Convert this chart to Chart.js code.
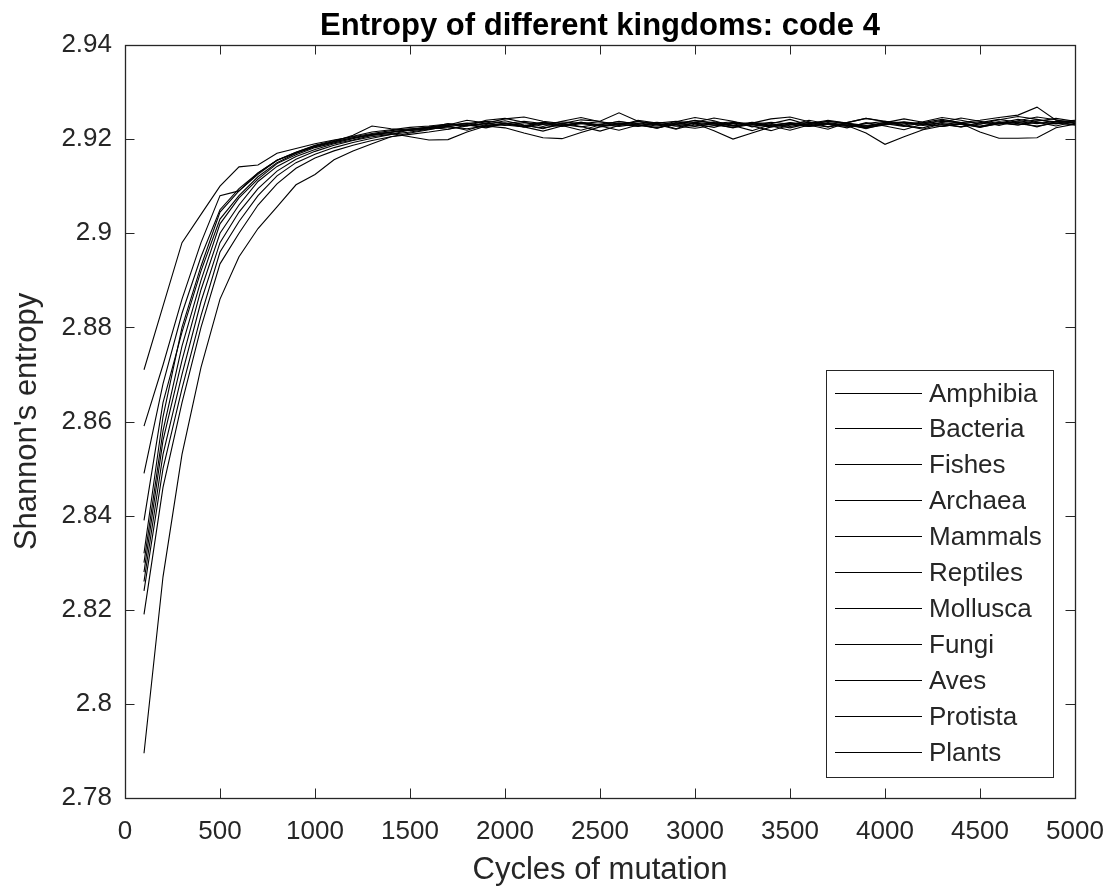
<!DOCTYPE html>
<html>
<head>
<meta charset="utf-8">
<script src="https://cdn.jsdelivr.net/npm/chart.js@4.4.1/dist/chart.umd.min.js"></script>
<style>
  html, body { margin: 0; padding: 0; background: #ffffff; }
  #wrap { width: 1118px; height: 892px; }
</style>
</head>
<body>
<div id="wrap"><canvas id="c" width="1118" height="892"></canvas></div>
<script>
// ---- data ----
const chartTitle = "Entropy of different kingdoms: code 4";
const xAxisTitle = "Cycles of mutation";
const yAxisTitle = "Shannon's entropy";
const cycles = [100,200,300,400,500,600,700,800,900,1000,1100,1200,1300,1400,1500,1600,1700,1800,1900,2000,2100,2200,2300,2400,2500,2600,2700,2800,2900,3000,3100,3200,3300,3400,3500,3600,3700,3800,3900,4000,4100,4200,4300,4400,4500,4600,4700,4800,4900,5000];
const seriesNames = ["Amphibia","Bacteria","Fishes","Archaea","Mammals","Reptiles","Mollusca","Fungi","Aves","Protista","Plants"];
const xTicks = [0,500,1000,1500,2000,2500,3000,3500,4000,4500,5000];
const yTicks = [2.78,2.80,2.82,2.84,2.86,2.88,2.90,2.92,2.94];

const amphibia = [2.871,2.8845,2.898,2.904,2.910,2.9141,2.9145,2.917,2.918,2.919,2.9198,2.9205,2.9212,2.9218,2.9222,2.9224,2.9233,2.9228,2.9240,2.9244,2.9236,2.9227,2.9238,2.9246,2.9237,2.9229,2.9240,2.9234,2.9222,2.9236,2.9245,2.9238,2.9226,2.9233,2.9242,2.9230,2.9221,2.9235,2.9244,2.9237,2.9228,2.9224,2.9236,2.9245,2.9238,2.9229,2.9239,2.9247,2.9241,2.9233];
const bacteria = [2.859,2.872,2.886,2.898,2.908,2.909,2.9128,2.9155,2.917,2.9185,2.9195,2.9208,2.9228,2.9222,2.9218,2.9222,2.9230,2.9240,2.9234,2.9243,2.9247,2.9238,2.9233,2.9241,2.9238,2.9256,2.9238,2.9230,2.9237,2.9246,2.9239,2.9228,2.9234,2.9243,2.9247,2.9237,2.9226,2.9235,2.9244,2.9238,2.9230,2.9237,2.9246,2.9240,2.9232,2.9241,2.9248,2.9242,2.9234,2.9239];
const fishes = [2.849,2.868,2.883,2.895,2.905,2.9095,2.9128,2.9155,2.9172,2.9186,2.9195,2.9203,2.9209,2.9214,2.9219,2.9222,2.9227,2.9231,2.9226,2.9233,2.9229,2.9224,2.9230,2.9235,2.9228,2.9232,2.9237,2.9233,2.9228,2.9234,2.9230,2.9225,2.9231,2.9236,2.9232,2.9227,2.9233,2.9229,2.9213,2.9189,2.9205,2.9220,2.9228,2.9233,2.9237,2.9232,2.9236,2.9241,2.9237,2.9240];
const archaea = [2.839,2.864,2.879,2.892,2.903,2.908,2.912,2.915,2.917,2.9184,2.9194,2.9203,2.9210,2.9215,2.9221,2.9225,2.9221,2.9228,2.9233,2.9229,2.9235,2.9231,2.9227,2.9233,2.9237,2.9232,2.9228,2.9234,2.9238,2.9233,2.9218,2.9200,2.9213,2.9226,2.9232,2.9236,2.9231,2.9227,2.9233,2.9238,2.9234,2.9229,2.9235,2.9231,2.9226,2.9232,2.9237,2.9233,2.9238,2.9234];
const mammals = [2.832,2.861,2.880,2.893,2.9045,2.909,2.9125,2.9155,2.9172,2.9187,2.9197,2.9206,2.9215,2.922,2.9225,2.9228,2.9232,2.9229,2.9234,2.9230,2.9226,2.9232,2.9237,2.9233,2.9228,2.9234,2.9230,2.9225,2.9231,2.9236,2.9232,2.9228,2.9233,2.9229,2.9235,2.9231,2.9226,2.9232,2.9228,2.9233,2.9237,2.9232,2.9227,2.9233,2.9215,2.9202,2.9202,2.9203,2.9224,2.9232];
const reptiles = [2.830,2.858,2.876,2.890,2.902,2.9075,2.9115,2.9148,2.9167,2.9182,2.9192,2.9201,2.921,2.9215,2.922,2.9226,2.9230,2.9234,2.9229,2.9233,2.9238,2.9233,2.9229,2.9235,2.9231,2.9227,2.9232,2.9236,2.9231,2.9227,2.9233,2.9237,2.9232,2.9228,2.9234,2.9229,2.9235,2.9230,2.9226,2.9231,2.9236,2.9232,2.9238,2.9235,2.9240,2.9246,2.9251,2.9268,2.9240,2.9236];
const mollusca = [2.828,2.856,2.873,2.888,2.900,2.906,2.911,2.9142,2.9163,2.9178,2.919,2.9198,2.9208,2.9212,2.9205,2.9198,2.9199,2.9215,2.9228,2.9234,2.9226,2.9236,2.9229,2.9219,2.9230,2.9238,2.9231,2.9223,2.9235,2.9228,2.9237,2.9229,2.9218,2.9231,2.9224,2.9233,2.9240,2.9234,2.9225,2.9236,2.9229,2.9221,2.9233,2.9226,2.9235,2.9242,2.9236,2.9226,2.9237,2.9230];
const fungi = [2.826,2.853,2.870,2.8855,2.898,2.9045,2.9095,2.9132,2.9157,2.9174,2.9187,2.9197,2.9205,2.921,2.9215,2.9221,2.9226,2.9222,2.9228,2.9224,2.9213,2.9203,2.9201,2.9214,2.9226,2.9231,2.9227,2.9232,2.9228,2.9223,2.9229,2.9234,2.9230,2.9226,2.9231,2.9227,2.9233,2.9229,2.9224,2.9230,2.9235,2.9231,2.9227,2.9232,2.9228,2.9234,2.9230,2.9236,2.9232,2.9237];
const aves = [2.824,2.850,2.867,2.8825,2.896,2.9025,2.908,2.9122,2.915,2.9168,2.9182,2.9193,2.9202,2.921,2.922,2.9224,2.9229,2.9233,2.9238,2.9234,2.9229,2.9235,2.9231,2.9226,2.9232,2.9237,2.9233,2.9228,2.9234,2.9239,2.9235,2.9230,2.9236,2.9232,2.9227,2.9233,2.9238,2.9234,2.9229,2.9235,2.9243,2.9236,2.9231,2.9226,2.9232,2.9237,2.9233,2.9228,2.9234,2.9230];
const protista = [2.819,2.846,2.864,2.880,2.8935,2.900,2.906,2.9105,2.9138,2.916,2.9175,2.9187,2.9197,2.9205,2.9213,2.9220,2.9228,2.9219,2.9231,2.9239,2.9230,2.9222,2.9234,2.9227,2.9217,2.9229,2.9238,2.9231,2.9221,2.9232,2.9225,2.9236,2.9228,2.9218,2.9230,2.9240,2.9232,2.9224,2.9235,2.9228,2.9220,2.9232,2.9240,2.9233,2.9225,2.9234,2.9242,2.9236,2.9228,2.9237];
const plants = [2.7895,2.827,2.853,2.8715,2.886,2.895,2.901,2.9056,2.9103,2.9125,2.9156,2.9175,2.919,2.9205,2.921,2.9215,2.9221,2.9230,2.9224,2.9233,2.9226,2.9217,2.9228,2.9236,2.9228,2.9219,2.9230,2.9223,2.9232,2.9240,2.9233,2.9224,2.9235,2.9228,2.9219,2.9230,2.9238,2.9232,2.9222,2.9233,2.9227,2.9235,2.9242,2.9235,2.9226,2.9236,2.9230,2.9238,2.9244,2.9238];

const seriesValues = [amphibia,bacteria,fishes,archaea,mammals,reptiles,mollusca,fungi,aves,protista,plants];

// ---- styles ----
const FONT = "'Liberation Sans', Arial, Helvetica, sans-serif";
const AXIS_COLOR = '#262626';

const datasets = seriesNames.map((name, k) => ({
  label: name,
  data: cycles.map((c, i) => ({ x: c, y: seriesValues[k][i] })),
  borderColor: '#000000',
  backgroundColor: '#000000',
  borderWidth: 1.1,
  pointRadius: 0,
  pointHoverRadius: 0,
  tension: 0,
  fill: false
}));

const fmtY = v => String(Number(v.toFixed(2)));

// MATLAB-like box, inward ticks, title and legend
const matlabPlugin = {
  id: 'matlabDecor',
  afterDatasetsDraw(chart) {
    const ctx = chart.ctx;
    const a = chart.chartArea;
    const xs = chart.scales.x, ys = chart.scales.y;
    const TL = 9.5;
    ctx.save();
    ctx.strokeStyle = AXIS_COLOR;
    ctx.lineWidth = 1;
    ctx.beginPath();
    xTicks.forEach(v => {
      const px = Math.round(xs.getPixelForValue(v)) + 0.5;
      ctx.moveTo(px, a.bottom); ctx.lineTo(px, a.bottom - TL);
      ctx.moveTo(px, a.top); ctx.lineTo(px, a.top + TL);
    });
    yTicks.forEach(v => {
      const py = Math.round(ys.getPixelForValue(v)) + 0.5;
      ctx.moveTo(a.left, py); ctx.lineTo(a.left + TL, py);
      ctx.moveTo(a.right, py); ctx.lineTo(a.right - TL, py);
    });
    ctx.stroke();
    ctx.lineWidth = 1.3;
    ctx.strokeRect(Math.round(a.left) + 0.5, Math.round(a.top) + 0.5,
                   Math.round(a.right - a.left), Math.round(a.bottom - a.top));

    // title
    ctx.fillStyle = '#000000';
    ctx.font = "bold 31px " + FONT;
    ctx.textAlign = 'center';
    ctx.textBaseline = 'middle';
    ctx.fillText(chartTitle, (a.left + a.right) / 2, 26);

    // legend
    const lw = 227, lh = 407;
    const lx = a.right - 22 - lw, ly = a.bottom - 21 - lh;
    ctx.fillStyle = '#ffffff';
    ctx.fillRect(lx, ly, lw, lh);
    ctx.lineWidth = 1;
    ctx.strokeStyle = AXIS_COLOR;
    ctx.strokeRect(Math.round(lx) + 0.5, Math.round(ly) + 0.5, lw, lh);
    ctx.font = "26px " + FONT;
    ctx.textAlign = 'left';
    ctx.textBaseline = 'middle';
    chart.data.datasets.forEach((ds, i) => {
      const ry = Math.round(ly + 22.5 + i * 35.9) + 0.5;
      ctx.strokeStyle = ds.borderColor;
      ctx.lineWidth = 1.1;
      ctx.beginPath();
      ctx.moveTo(lx + 9, ry); ctx.lineTo(lx + 96, ry);
      ctx.stroke();
      ctx.fillStyle = AXIS_COLOR;
      ctx.fillText(ds.label, lx + 103, ry + 1);
    });
    ctx.restore();
  }
};

new Chart(document.getElementById('c'), {
  type: 'line',
  data: { datasets },
  plugins: [matlabPlugin],
  options: {
    responsive: false,
    animation: false,
    devicePixelRatio: 1,
    layout: { padding: { top: 45, right: 43, left: 0, bottom: 0 } },
    plugins: {
      legend: { display: false },
      title: { display: false },
      tooltip: { enabled: false }
    },
    scales: {
      x: {
        type: 'linear',
        min: 0, max: 5000,
        afterBuildTicks: s => { s.ticks = xTicks.map(v => ({ value: v })); },
        afterFit: s => { s.height = 94; s.paddingLeft = 0; s.paddingRight = 0; },
        grid: { display: false, drawTicks: false },
        border: { display: false },
        ticks: {
          color: AXIS_COLOR,
          font: { family: FONT, size: 26 },
          padding: 18,
          maxRotation: 0,
          autoSkip: false,
          callback: v => String(v)
        },
        title: {
          display: true, text: xAxisTitle, color: AXIS_COLOR,
          font: { family: FONT, size: 31 },
          padding: { top: 0, bottom: 3 }
        }
      },
      y: {
        type: 'linear',
        min: 2.78, max: 2.94,
        afterBuildTicks: s => { s.ticks = yTicks.map(v => ({ value: v })); },
        afterFit: s => { s.width = 125; },
        grid: { display: false, drawTicks: false },
        border: { display: false },
        ticks: {
          color: AXIS_COLOR,
          font: { family: FONT, size: 26 },
          padding: 13,
          autoSkip: false,
          callback: v => fmtY(v)
        },
        title: {
          display: true, text: yAxisTitle, color: AXIS_COLOR,
          font: { family: FONT, size: 31 },
          padding: { top: 9, bottom: 0 }
        }
      }
    }
  }
});
</script>
</body>
</html>
